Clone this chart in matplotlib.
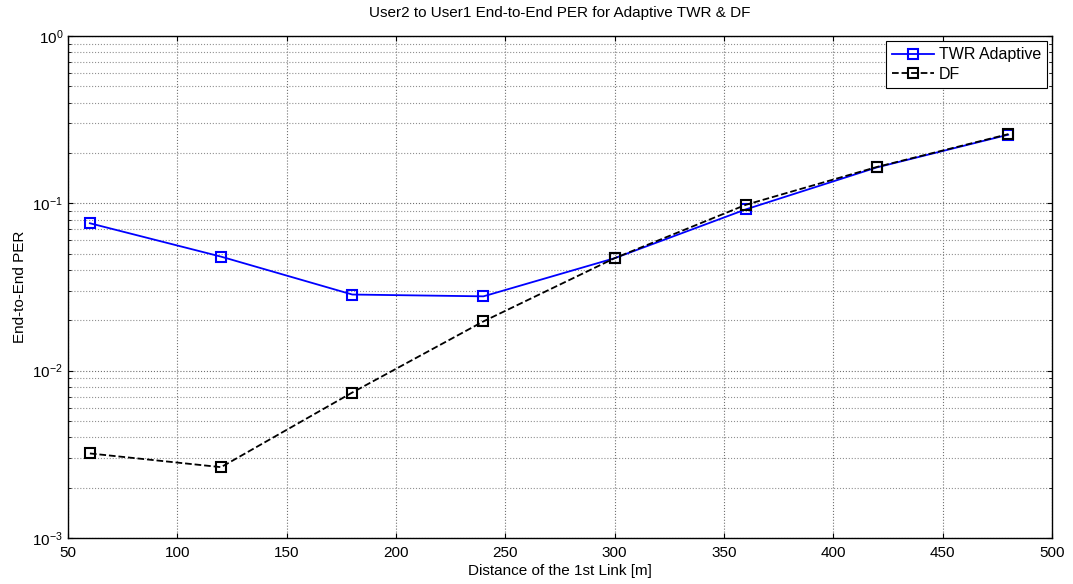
import matplotlib.pyplot as plt
from matplotlib.ticker import LogLocator, NullFormatter

plt.rcParams['font.family'] = ['Liberation Sans', 'DejaVu Sans']
plt.rcParams['mathtext.fontset'] = 'custom'
plt.rcParams['mathtext.rm'] = 'Liberation Sans'

distance = [60, 120, 180, 240, 300, 360, 420, 480]
per_twr = [0.076, 0.048, 0.0285, 0.0278, 0.047, 0.092, 0.164, 0.257]
per_df = [0.0032, 0.00265, 0.0074, 0.0197, 0.047, 0.098, 0.165, 0.259]

fig = plt.figure(figsize=(10.73, 5.84), dpi=100)
ax = fig.add_axes([0.0634, 0.0788, 0.917, 0.8596])

ax.semilogy(distance, per_twr, color="blue", marker="s", markersize=7.5,
            markerfacecolor="none", markeredgewidth=1.5, linewidth=1.3,
            label="TWR Adaptive")
ax.semilogy(distance, per_df, color="black", marker="s", markersize=7.5,
            markerfacecolor="none", markeredgewidth=1.5, linewidth=1.3,
            linestyle="--", label="DF")

ax.set_xlim(50, 500)
ax.set_ylim(1e-3, 1e0)
ax.set_xticks(range(50, 501, 50))
ax.yaxis.set_major_locator(LogLocator(base=10, numticks=10))
ax.yaxis.set_minor_locator(LogLocator(base=10, subs=range(2, 10), numticks=10))
ax.yaxis.set_minor_formatter(NullFormatter())

ax.grid(True, which="major", color="#707070", linestyle=":", linewidth=0.8)
ax.grid(True, which="minor", axis="y", color="#909090", linestyle=":", linewidth=0.8)
ax.tick_params(which="both", direction="in", top=True, right=True, labelsize=11)
ax.tick_params(axis="x", pad=6)
for s in ax.spines.values():
    s.set_linewidth(1.0)

ax.set_title("User2 to User1 End-to-End PER for Adaptive TWR & DF", fontsize=11, pad=14)
ax.set_xlabel("Distance of the 1st Link [m]", fontsize=11, labelpad=3)
ax.set_ylabel("End-to-End PER", fontsize=11, labelpad=4)

leg = ax.legend(loc="upper right", fontsize=11.5, fancybox=False, framealpha=1,
                edgecolor="black", borderaxespad=0.3, handlelength=2.6,
                handletextpad=0.3, borderpad=0.4, labelspacing=0.3)
leg.get_frame().set_linewidth(0.8)

fig.savefig("out.png", dpi=100)
